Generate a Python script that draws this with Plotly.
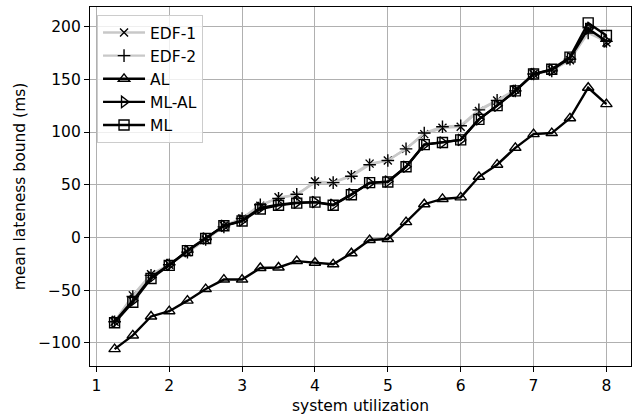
import plotly.graph_objects as go

utilization = [1.25, 1.5, 1.75, 2.0, 2.25, 2.5, 2.75, 3.0, 3.25, 3.5, 3.75, 4.0, 4.25, 4.5,
               4.75, 5.0, 5.25, 5.5, 5.75, 6.0, 6.25, 6.5, 6.75, 7.0, 7.25, 7.5, 7.75, 8.0]

edf1 = [-80, -55, -35, -26, -14, -2, 11, 18, 30, 38, 40, 53, 52, 59,
        70, 73, 84, 98, 104, 105, 120, 130, 140, 155, 159, 168, 196, 185]
edf2 = [-80, -56, -36, -26, -14, -2, 10, 18, 31, 37, 41, 52, 52, 58,
        69, 73, 84, 99, 105, 106, 121, 130, 139, 155, 158, 169, 194, 186]
al = [-106, -93, -75, -70, -60, -49, -40, -40, -29, -28.5, -22.5, -24, -25.5, -15,
      -2.5, -1.5, 14.5, 31.5, 36.5, 38, 57.5, 69, 85, 98, 99, 113, 142, 126.5]
ml_al = [-80, -60, -38, -26, -13, -1, 11, 16, 28, 31, 33, 33.5, 31, 41,
         51.5, 53, 67, 88, 90, 92.5, 112, 125, 139, 155, 159, 170, 198, 186]
ml = [-81, -61.5, -39, -26.5, -12.5, -1, 11, 15.5, 27, 30.5, 32.5, 33.5, 30.5, 40.5,
      52, 52.5, 67, 88, 90, 92.5, 112, 125, 139, 155, 159.5, 171, 203.5, 191.5]

series = [
    ("EDF-1", edf1, "#c8c8c8", "x-thin-open", 8),
    ("EDF-2", edf2, "#c8c8c8", "cross-thin-open", 9),
    ("AL", al, "black", "triangle-up-open", 10),
    ("ML-AL", ml_al, "black", "triangle-right-open", 10),
    ("ML", ml, "black", "square-open", 10),
]

fig = go.Figure()
for name, vals, lc, sym, sz in series:
    fig.add_trace(go.Scatter(
        x=utilization, y=vals, name=name, mode="lines+markers",
        line=dict(color=lc, width=2.4),
        marker=dict(symbol=sym, size=sz, color="black",
                    line=dict(color="black", width=1.4)),
    ))

axis_common = dict(
    showgrid=True, gridcolor="#b0b0b0", gridwidth=1.3,
    showline=True, linecolor="black", linewidth=1.2, mirror=True,
    ticks="outside", ticklen=5, tickwidth=1.2, tickcolor="black", zeroline=False,
    tickfont=dict(family="DejaVu Sans", size=15.5, color="black"),
)

fig.update_layout(
    width=637, height=419,
    margin=dict(l=90, r=6, t=7, b=53),
    paper_bgcolor="white", plot_bgcolor="white",
    font=dict(family="DejaVu Sans", size=15.5, color="black"),
    xaxis=dict(range=[0.9125, 8.3375], tickmode="array", tickvals=[1, 2, 3, 4, 5, 6, 7, 8],
               title=dict(text="system utilization", standoff=6, font=dict(size=15.5)), **axis_common),
    yaxis=dict(range=[-122, 218.6], tickmode="array", tickvals=[-100, -50, 0, 50, 100, 150, 200],
               title=dict(text="mean lateness bound (ms)", standoff=8, font=dict(size=15.5)), **axis_common),
    legend=dict(x=0.013, y=0.978, xanchor="left", yanchor="top",
                bgcolor="rgba(255,255,255,0.8)", bordercolor="#cccccc", borderwidth=1,
                font=dict(size=15.5), tracegroupgap=0, itemwidth=42),
    showlegend=True,
)

fig.write_html("out.html", config={"displayModeBar": False},
               post_script="document.body.style.margin='0';")
